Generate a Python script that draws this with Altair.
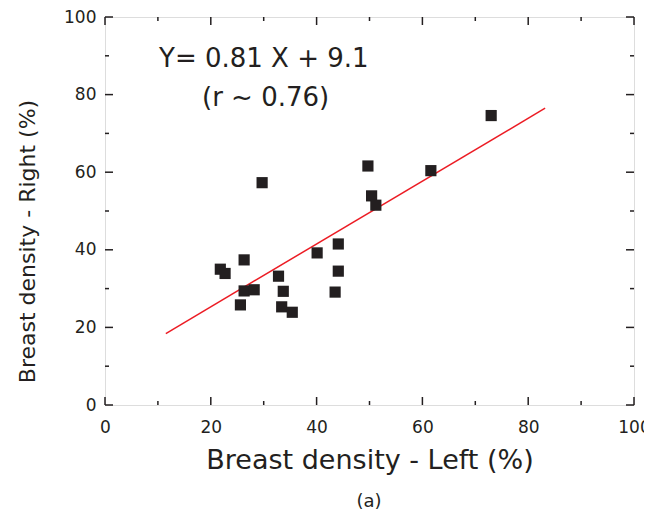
import altair as alt
import pandas as pd

# Data
left_density = [73.0, 61.6, 49.7, 50.4, 51.2, 44.1, 44.1, 43.5, 40.1, 29.7,
                26.3, 21.8, 22.7, 32.8, 33.7, 26.3, 28.2, 25.6, 33.4, 35.4]
right_density = [74.6, 60.4, 61.6, 53.9, 51.5, 41.5, 34.5, 29.1, 39.2, 57.3,
                 37.4, 35.0, 33.9, 33.2, 29.3, 29.4, 29.7, 25.8, 25.3, 23.9]
fit_slope = 0.81
fit_intercept = 9.1
fit_x_range = [11.5, 83.2]
major_ticks = [0, 20, 40, 60, 80, 100]
minor_ticks = [10, 30, 50, 70, 90]

W, H = 529, 388
FONT = "DejaVu Sans"
INK = "#231f20"

pts = pd.DataFrame({"x": left_density, "y": right_density})
fit = pd.DataFrame({"x": fit_x_range,
                    "y": [fit_slope * v + fit_intercept for v in fit_x_range]})
major = pd.DataFrame({"v": major_ticks})
minor = pd.DataFrame({"v": minor_ticks})

xs = alt.Scale(domain=[0, 100], nice=False)
ys = alt.Scale(domain=[0, 100], nice=False)

xaxis = alt.Axis(values=major_ticks, title="Breast density - Left (%)", grid=False,
                 domain=False, ticks=False, labelFont=FONT, labelFontSize=17,
                 labelColor=INK, labelPadding=14, titleFont=FONT, titleFontSize=27,
                 titleFontWeight="normal", titleColor=INK, titlePadding=12,
                 labelFlush=False)
yaxis = alt.Axis(values=major_ticks, title="Breast density - Right (%)", grid=False,
                 domain=False, ticks=False, labelFont=FONT, labelFontSize=17,
                 labelColor=INK, labelPadding=9, titleFont=FONT, titleFontSize=22,
                 titleFontWeight="normal", titleColor=INK, titlePadding=24,
                 titleY=224, labelFlush=False)

points = alt.Chart(pts).mark_square(size=125, color=INK, opacity=1).encode(
    x=alt.X("x:Q", scale=xs, axis=xaxis),
    y=alt.Y("y:Q", scale=ys, axis=yaxis),
)

line = alt.Chart(fit).mark_line(color="#ec1c24", strokeWidth=1.5).encode(
    x=alt.X("x:Q", scale=xs), y=alt.Y("y:Q", scale=ys)
)

def tick_layers(df, length):
    b = alt.Chart(df).mark_rule(color=INK, strokeWidth=1.5)
    return [
        b.encode(x=alt.X("v:Q", scale=xs), y=alt.value(H), y2=alt.value(H - length)),
        b.encode(x=alt.X("v:Q", scale=xs), y=alt.value(0), y2=alt.value(length)),
        b.encode(y=alt.Y("v:Q", scale=ys), x=alt.value(0), x2=alt.value(length)),
        b.encode(y=alt.Y("v:Q", scale=ys), x=alt.value(W), x2=alt.value(W - length)),
    ]

ticks = tick_layers(major, 8) + tick_layers(minor, 4)

eq = alt.Chart(pd.DataFrame({"t": ["Y= 0.81 X + 9.1"]})).mark_text(
    font=FONT, fontSize=26, color=INK, align="left", baseline="alphabetic"
).encode(text="t:N", x=alt.value(54), y=alt.value(50))

rr = alt.Chart(pd.DataFrame({"t": ["(r ~ 0.76)"]})).mark_text(
    font=FONT, fontSize=26, color=INK, align="left", baseline="alphabetic"
).encode(text="t:N", x=alt.value(97), y=alt.value(89))

cap = alt.Chart(pd.DataFrame({"t": ["(a)"]})).mark_text(
    font=FONT, fontSize=18, color=INK, align="center", baseline="middle"
).encode(text="t:N", x=alt.value(264), y=alt.value(485))

chart = alt.layer(line, points, *ticks, eq, rr, cap).properties(
    width=W, height=H,
    autosize=alt.AutoSizeParams(type="none"),
    padding={"left": 97, "top": 9, "right": 10, "bottom": 106},
).configure_view(stroke=INK, strokeWidth=2).configure(background="white")

chart.save("out.html", embed_options={"renderer": "svg", "actions": False})
